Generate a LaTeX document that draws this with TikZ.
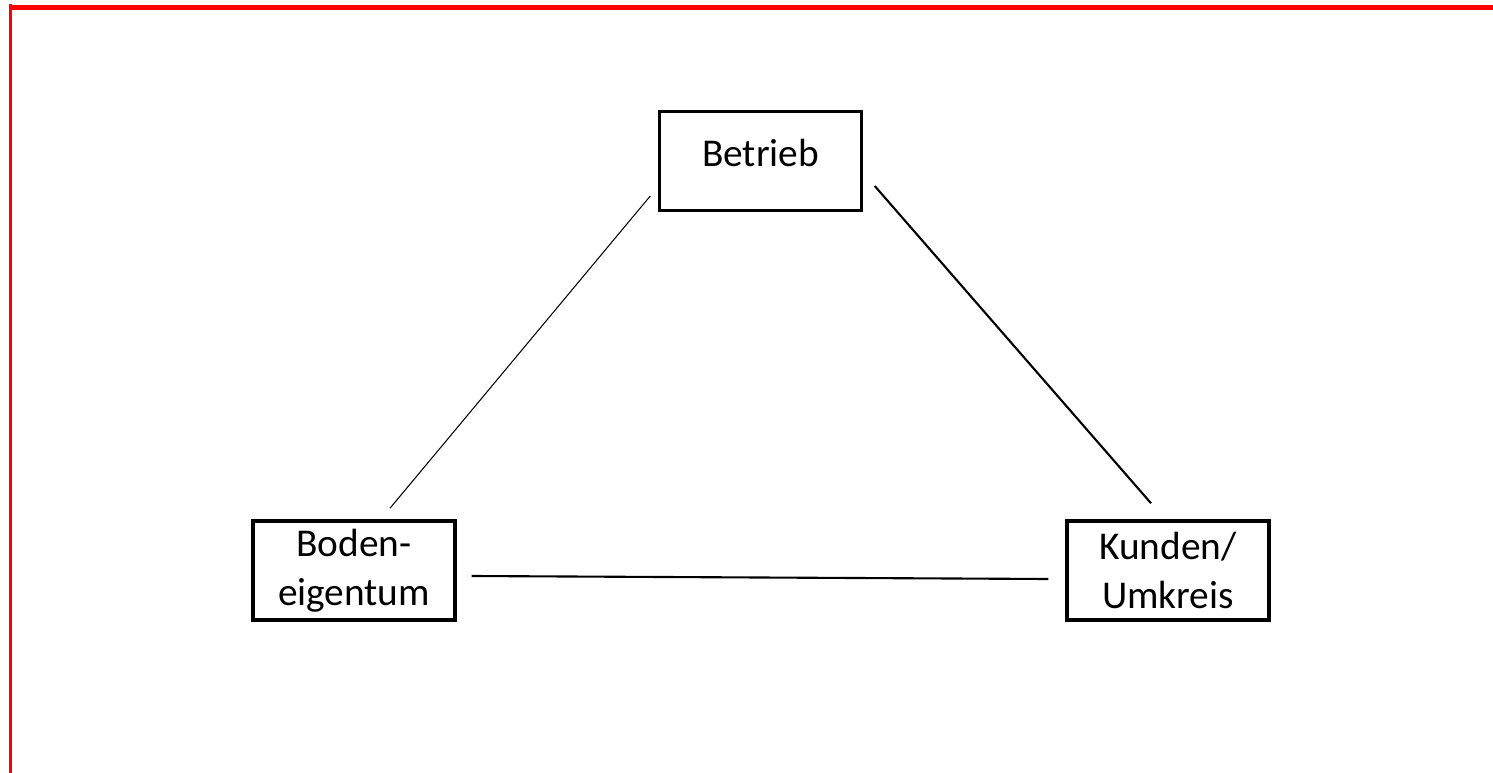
\documentclass[tikz,border=0pt]{standalone}
\usepackage{fontspec}
\setmainfont{Carlito}
\usetikzlibrary{calc}
\definecolor{fred}{RGB}{255, 0, 0}

\begin{document}
\begin{tikzpicture}[x=0.02cm,y=-0.02cm]
                \useasboundingbox (0,0) rectangle (1493,773);
                \fill [fred] (9,5) rectangle (1493,10);
                \fill [fred] (9,4) rectangle (12,773);

                \tikzset{box/.style={rectangle, draw, line width=2pt, minimum width=4.04cm, minimum height=1.98cm, align=center, font=\fontsize{22.4}{27.8}\selectfont}}
                \node[box, text depth=0.32cm] (B1) at (760.5,161) {Betrieb};
                \node[box] (B2) at (354,570.5) {Boden-\\eigentum};
                \node[box] (B3) at (1168,570.5) {Kunden/\\Umkreis};

                \coordinate (L1a) at ($(B1.west)+(-7.5,35)$);
                \coordinate (L1b) at ($(B2.north)+(36,-11)$);
                \coordinate (L2a) at ($(B1.east)+(11.5,25)$);
                \coordinate (L2b) at ($(B3.north)+(-17,-16)$);
                \coordinate (L3a) at ($(B2.east)+(15,5.5)$);
                \coordinate (L3b) at ($(B3.west)+(-17,8.5)$);

                \draw[line width=0.6pt] (L1a) -- (L1b);
                \draw[line width=1.2pt] (L2a) -- (L2b);
                \draw[line width=1.2pt] (L3a) -- (L3b);
\end{tikzpicture}
\end{document}
